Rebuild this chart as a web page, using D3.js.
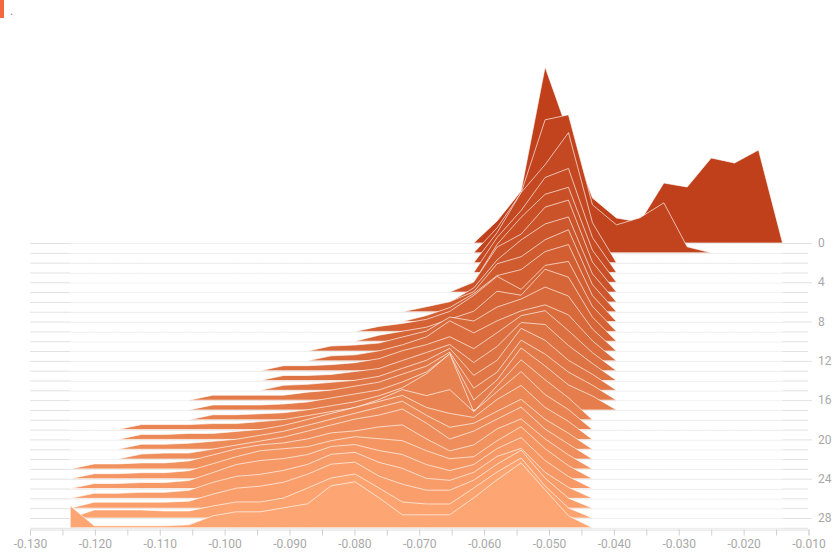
<!DOCTYPE html>
<html>
<head>
<meta charset="utf-8">
<script src="https://cdn.jsdelivr.net/npm/d3@7"></script>
<style>
  body { margin: 0; background: #fff; }
  text { font-family: Roboto, "Noto Sans", sans-serif; }
</style>
</head>
<body>
<svg id="chart" width="833" height="554"></svg>
<script>
// Bin positions shared by every histogram (weight values)
const binCenters = [
  -0.1238, -0.1201, -0.1165, -0.1128, -0.1092, -0.1055, -0.1018, -0.0982,
  -0.0945, -0.0909, -0.0872, -0.0836, -0.0799, -0.0762, -0.0726, -0.0689,
  -0.0653, -0.0616, -0.0580, -0.0543, -0.0506, -0.0470, -0.0433, -0.0396,
  -0.0360, -0.0323, -0.0287, -0.0250, -0.0214, -0.0177, -0.0140
];

// Training steps, back (0) to front (29)
const steps = [0, 1, 2, 3, 4, 5, 6, 7, 8, 9, 10, 11, 12, 13, 14, 15,
               16, 17, 18, 19, 20, 21, 22, 23, 24, 25, 26, 27, 28, 29];

// Histogram counts per step, one value per bin
const counts = [
  [0,0,0,0,0,0,0,0,0,0,0,0,0,0,0,0,0, 0,22,52,176,110,45,25,21,60,56,85,80,93,0],
  [0,0,0,0,0,0,0,0,0,0,0,0,0,0,0,0,0, 0,25,60,133,138,48,28,35,50,6,0,0,0,0],
  [0,0,0,0,0,0,0,0,0,0,0,0,0,0,0,0,0, 0,30,70,98,130,40,0,0,0,0,0,0,0,0],
  [0,0,0,0,0,0,0,0,0,0,0,0,0,0,0,0,0, 0,35,62,95,104,35,0,0,0,0,0,0,0,0],
  [0,0,0,0,0,0,0,0,0,0,0,0,0,0,0,0,0, 0,38,65,88,95,32,0,0,0,0,0,0,0,0],
  [0,0,0,0,0,0,0,0,0,0,0,0,0,0,0,0,0, 10,45,58,85,92,30,0,0,0,0,0,0,0,0],
  [0,0,0,0,0,0,0,0,0,0,0,0,0,0,0,0,0, 14,42,62,78,85,28,0,0,0,0,0,0,0,0],
  [0,0,0,0,0,0,0,0,0,0,0,0,0,0,0,5,10, 20,48,55,72,82,27,0,0,0,0,0,0,0,0],
  [0,0,0,0,0,0,0,0,0,0,0,0,0,0,0,6,14, 28,46,52,70,77,26,0,0,0,0,0,0,0,0],
  [0,0,0,0,0,0,0,0,0,0,0,0,0,5,8,12,20, 36,55,42,66,70,25,0,0,0,0,0,0,0,0],
  [0,0,0,0,0,0,0,0,0,0,0,0,0,6,10,14,22, 30,50,46,72,64,24,0,0,0,0,0,0,0,0],
  [0,0,0,0,0,0,0,0,0,0,0,5,6,8,14,20,34, 30,44,52,64,55,22,0,0,0,0,0,0,0,0],
  [0,0,0,0,0,0,0,0,0,0,0,5,6,10,16,24,40, 28,40,50,56,46,20,0,0,0,0,0,0,0,0],
  [0,0,0,0,0,0,0,0,0,5,5,6,8,12,20,26,34, 22,38,55,60,40,18,0,0,0,0,0,0,0,0],
  [0,0,0,0,0,0,0,0,0,5,5,6,9,12,20,28,36, 18,34,58,56,35,17,0,0,0,0,0,0,0,0],
  [0,0,0,0,0,0,0,0,0,5,6,8,10,14,22,30,42, 15,30,62,50,30,16,0,0,0,0,0,0,0,0],
  [0,0,0,0,0,0,5,5,5,5,8,10,14,18,26,34,48, 12,28,60,46,28,15,0,0,0,0,0,0,0,0],
  [0,0,0,0,0,0,5,5,5,6,8,12,16,20,28,38,56, 10,30,62,44,25,14,0,0,0,0,0,0,0,0],
  [0,0,0,0,0,0,5,5,6,7,10,14,18,24,32,46,66, 8,34,60,40,22,0,0,0,0,0,0,0,0,0],
  [0,0,0,5,5,5,6,6,8,10,14,18,22,30,40,34,40, 18,38,58,35,20,0,0,0,0,0,0,0,0,0],
  [0,0,0,5,5,6,6,8,10,14,20,26,32,38,44,32,26, 22,40,54,32,18,0,0,0,0,0,0,0,0,0],
  [0,0,0,5,5,6,8,10,14,18,24,30,36,42,48,34,22, 26,38,50,30,16,0,0,0,0,0,0,0,0,0],
  [0,0,0,5,6,6,10,14,18,22,28,34,40,44,50,36,20, 28,40,52,30,15,0,0,0,0,0,0,0,0,0],
  [0,5,5,6,6,8,14,20,24,26,30,36,38,42,44,30,18, 24,40,50,30,14,0,0,0,0,0,0,0,0,0],
  [0,5,5,6,6,8,15,22,28,30,32,38,42,40,38,28,20, 22,38,52,30,13,0,0,0,0,0,0,0,0,0],
  [0,5,5,6,6,8,16,24,28,30,34,42,44,38,34,24,18, 24,40,51,28,12,0,0,0,0,0,0,0,0,0],
  [0,5,5,6,6,8,16,22,24,28,34,44,46,36,30,20,18, 26,42,50,26,11,0,0,0,0,0,0,0,0,0],
  [0,6,6,6,6,7,14,20,22,26,34,44,46,32,24,18,18, 28,44,58,30,10,0,0,0,0,0,0,0,0,0],
  [0,8,8,8,7,7,12,16,16,20,30,40,44,30,16,14,14, 30,46,60,32,10,0,0,0,0,0,0,0,0,0],
  [22,2,2,2,2,3,12,16,16,20,24,42,46,30,13,13,13, 30,48,65,38,12,0,0,0,0,0,0,0,0,0]
];

// Axis ticks
const xTickValues = [-0.130, -0.125, -0.120, -0.115, -0.110, -0.105, -0.100, -0.095,
                     -0.090, -0.085, -0.080, -0.075, -0.070, -0.065, -0.060, -0.055,
                     -0.050, -0.045, -0.040, -0.035, -0.030, -0.025, -0.020, -0.015, -0.010];
const xLabelValues = [-0.130, -0.120, -0.110, -0.100, -0.090, -0.080, -0.070,
                      -0.060, -0.050, -0.040, -0.030, -0.020, -0.010];
const stepLabels = [0, 4, 8, 12, 16, 20, 24, 28];

const svg = d3.select("#chart");

const x = d3.scaleLinear().domain([-0.13, -0.01]).range([30, 808.5]);
const yStep = d3.scaleLinear().domain([0, 29]).range([243, 527.8]);
const hScale = d3.scaleLinear().domain([0, 176]).range([0, 176]);
const color = d3.scaleLinear()
  .domain([0, 29])
  .range(["#c0401b", "#fea673"])
  .interpolate(d3.interpolateHcl);

// Small legend swatch in the corner
svg.append("rect").attr("x", 0).attr("y", 0).attr("width", 4).attr("height", 18)
  .attr("fill", "#f26a3d");
svg.append("text").attr("x", 10).attr("y", 15).attr("font-size", 12)
  .attr("fill", "#888").text(".");

// Horizontal step lines
const grid = svg.append("g");
steps.forEach(s => {
  const labeled = stepLabels.includes(s);
  grid.append("line")
    .attr("x1", 30).attr("x2", labeled ? 812 : 808)
    .attr("y1", yStep(s) + 0.5).attr("y2", yStep(s) + 0.5)
    .attr("stroke", "#e2e2e2").attr("stroke-width", 1);
});

// Step labels on the right
svg.append("g").selectAll("text")
  .data(stepLabels)
  .join("text")
  .attr("x", 818)
  .attr("y", d => yStep(d))
  .attr("dy", "0.35em")
  .attr("font-size", 12)
  .attr("fill", "#a8a8a8")
  .text(d => d);

// Offset histogram ridges, drawn back to front
const area = d3.area()
  .x((d, i) => x(binCenters[i]))
  .y0(0)
  .y1(d => -hScale(d));

const ridges = svg.append("g");
steps.forEach(s => {
  ridges.append("path")
    .datum(counts[s])
    .attr("transform", `translate(0,${yStep(s)})`)
    .attr("d", area)
    .attr("fill", color(s))
    .attr("stroke", "#fff")
    .attr("stroke-opacity", 0.65)
    .attr("stroke-width", 1);
});

// Bottom value axis
const xAxis = d3.axisBottom(x)
  .tickValues(xTickValues)
  .tickSize(6)
  .tickPadding(4)
  .tickFormat(d => xLabelValues.some(v => Math.abs(v - d) < 1e-9) ? d.toFixed(3) : "");

const gx = svg.append("g")
  .attr("transform", "translate(0,529.5)")
  .call(xAxis);
gx.select(".domain").attr("stroke", "#e0e0e0");
gx.selectAll(".tick line").attr("stroke", "#d0d0d0");
gx.selectAll(".tick text")
  .attr("font-size", 12)
  .attr("font-family", "Roboto, sans-serif")
  .attr("fill", "#a8a8a8");
</script>
</body>
</html>
